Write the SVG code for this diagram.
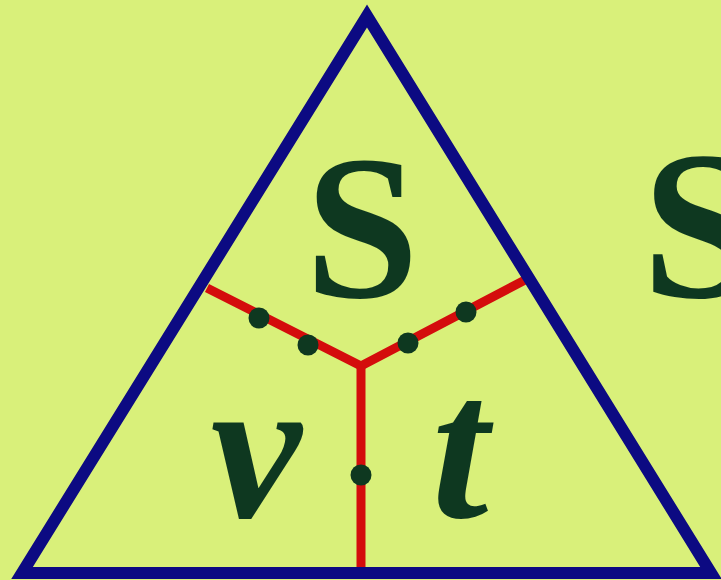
<svg xmlns="http://www.w3.org/2000/svg" width="721" height="580" viewBox="0 0 721 580">
<style>
.tri{fill:none;stroke:#0c0a82;stroke-width:12;stroke-linejoin:miter}
.red{fill:none;stroke:#d40c0c;stroke-width:9;stroke-linecap:butt;stroke-linejoin:miter}
.dot{fill:#0e3820}
.lbl{font-family:"Liberation Serif","Times New Roman",serif;font-weight:bold;fill:#0e3820}
.it{font-style:italic}
</style>
<rect width="721" height="580" fill="#d9f07a"/>
<g id="connectors">
<polyline class="red" points="207,288 361,366 525,280"/>
<line class="red" x1="361" y1="366" x2="361" y2="569"/>
</g>
<g id="triangle">
<polygon class="tri" points="367,16 711,573 22,573"/>
</g>
<g id="dots">
<circle class="dot" cx="259" cy="318" r="10.5"/>
<circle class="dot" cx="308" cy="345" r="10.5"/>
<circle class="dot" cx="408" cy="343" r="10.5"/>
<circle class="dot" cx="466" cy="312" r="10.5"/>
<circle class="dot" cx="361" cy="475" r="10.5"/>
</g>
<g id="node-S"><text class="lbl" x="362" y="297" font-size="205" text-anchor="middle">S</text></g>
<g id="node-v"><text class="lbl it" x="256" y="517" font-size="205" text-anchor="middle">v</text></g>
<g id="node-t"><text class="lbl it" x="460" y="517" font-size="205" text-anchor="middle">t</text></g>
<g id="node-S2"><text class="lbl" x="642" y="297" font-size="212">S</text></g>
</svg>
